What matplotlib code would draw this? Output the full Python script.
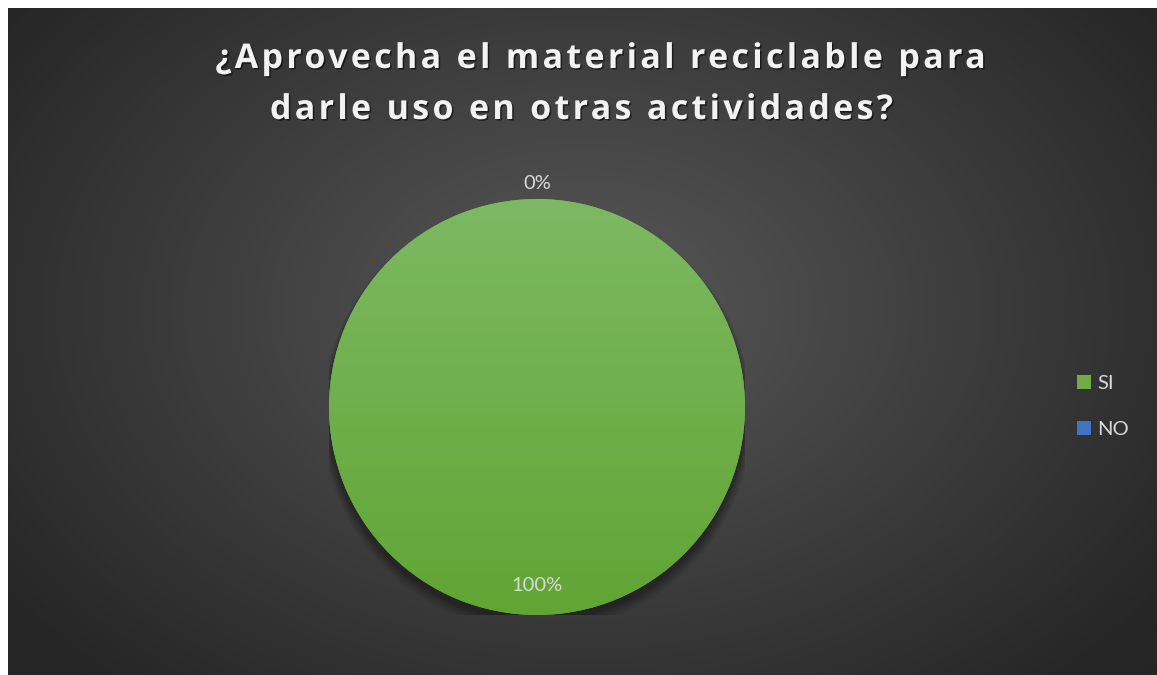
import numpy as np
import matplotlib
matplotlib.use("Agg")
import matplotlib.pyplot as plt
import matplotlib.patheffects as pe
from matplotlib.path import Path
from matplotlib.transforms import IdentityTransform
from matplotlib.textpath import text_to_path
from matplotlib.font_manager import FontProperties
from matplotlib.colors import LinearSegmentedColormap

# ---- data ----
title_lines = ["¿Aprovecha el material reciclable para", "darle uso en otras actividades?"]
categories = ["SI", "NO"]
values = [100, 0]
colors = ["#70AD47", "#4472C4"]

W, H = 1157, 675
fig = plt.figure(figsize=(W / 100, H / 100), dpi=100, facecolor="white")


class LetterSpaced(pe.AbstractPathEffect):
    """Draw a text path with extra spacing between glyphs (centered)."""

    def __init__(self, s, prop, spacing, offset=(0, 0), color=None, alpha=None):
        super().__init__(offset=(0, 0))
        self.spacing = spacing
        self.off = offset
        self.color = color
        self.alpha = alpha
        font = text_to_path._get_font(prop)
        info, _, _ = text_to_path.get_glyphs_with_font(font, s)
        self.xpos = np.array([g[1] for g in info])
        self.n = len(self.xpos)

    def draw_path(self, renderer, gc, tpath, affine, rgbFace=None):
        verts = tpath.vertices
        codes = tpath.codes
        starts = np.where(codes == Path.MOVETO)[0]
        ends = list(starts[1:]) + [len(codes)]
        disp = affine.transform(verts)
        shifts = np.zeros(len(verts))
        for a, b in zip(starts, ends):
            seg_codes = codes[a:b]
            mask = seg_codes != Path.CLOSEPOLY
            cx = verts[a:b][mask, 0].mean()
            k = max(0, np.searchsorted(self.xpos, cx, side="right") - 1)
            shifts[a:b] = k * self.spacing
        disp[:, 0] += shifts - (self.n - 1) * self.spacing / 2 + renderer.points_to_pixels(self.off[0])
        disp[:, 1] += renderer.points_to_pixels(self.off[1])
        gc0 = renderer.new_gc()
        gc0.copy_properties(gc)
        face = rgbFace if self.color is None else matplotlib.colors.to_rgba(self.color)
        if self.alpha is not None:
            gc0.set_alpha(self.alpha)
        renderer.draw_path(gc0, Path(disp, codes), IdentityTransform(), face)
        gc0.restore()


# ---- background radial gradient ----
bg = fig.add_axes([8 / W, 0, (W - 8) / W, (H - 8) / H])
bg.set_axis_off()
ny, nx = 334, 575
yy, xx = np.mgrid[0:ny, 0:nx]
cx, cy = 0.50 * nx, 0.45 * ny
r = np.sqrt(((xx - cx) / (0.62 * nx)) ** 2 + ((yy - cy) / (0.75 * ny)) ** 2)
r = np.clip(r, 0, 1)
c_center = np.array([0x58, 0x58, 0x58]) / 255
c_edge = np.array([0x26, 0x26, 0x26]) / 255
img = c_center[None, None, :] * (1 - r[..., None]) + c_edge[None, None, :] * r[..., None]
bg.imshow(img, extent=(0, 1, 0, 1), aspect="auto", origin="upper", interpolation="bilinear")
bg.set_xlim(0, 1)
bg.set_ylim(0, 1)

# ---- title ----
title_prop = FontProperties(family="Open Sans", weight="bold", size=24.5)
title_centers = [(600, 59), (581, 110)]
for line, (tx, ty) in zip(title_lines, title_centers):
    fig.text(tx / W, 1 - ty / H, line, fontproperties=title_prop, color="#f2f2f2",
             ha="center", va="center",
             path_effects=[LetterSpaced(line, title_prop, 3.3, offset=(1.1, -1.1),
                                        color="black", alpha=0.55),
                           LetterSpaced(line, title_prop, 3.3)])

# ---- pie ----
R = 208
pcx, pcy = 537, 407
ax = fig.add_axes([(pcx - R) / W, (H - pcy - R) / H, 2 * R / W, 2 * R / H])
for k, a in zip(range(6, 0, -1), [0.04, 0.05, 0.06, 0.07, 0.08, 0.09]):
    ax.add_patch(plt.Circle((0, -0.02 - k * 0.004), 1 + k * 0.006, color="black", alpha=a, lw=0, zorder=0))
wedges, texts, autotexts = ax.pie(values, colors=colors, startangle=90, counterclock=False,
                                  radius=1, autopct="%1.0f%%", pctdistance=0.85,
                                  wedgeprops=dict(linewidth=0),
                                  textprops=dict(color="#d9d9d9", fontsize=14.5,
                                                 family=["Lato", "DejaVu Sans"]))
gcmap = LinearSegmentedColormap.from_list("g", ["#61a534", "#7db963"])
grad = np.linspace(0, 1, 256)[:, None]
im = ax.imshow(grad, extent=(-1, 1, -1, 1), origin="lower", cmap=gcmap, aspect="auto", zorder=2)
im.set_clip_path(wedges[0])

dists = [0.86, 1.075]
for w, t, d in zip(wedges, autotexts, dists):
    ang = np.deg2rad((w.theta1 + w.theta2) / 2)
    t.set_position((d * np.cos(ang), d * np.sin(ang)))
    t.set_zorder(5)
ax.set_xlim(-1, 1)
ax.set_ylim(-1, 1)
ax.set_axis_off()

# ---- legend ----
leg = fig.legend(wedges, categories, loc="center left",
                 bbox_to_anchor=(1077 / W, 1 - 406.5 / H), frameon=False,
                 borderpad=0, borderaxespad=0,
                 handlelength=0.7, handleheight=0.7, handletextpad=0.3,
                 labelspacing=1.4,
                 prop=dict(size=14.5, family=["Lato", "DejaVu Sans"]))
for t in leg.get_texts():
    t.set_color("#d9d9d9")

fig.savefig("out.png", dpi=100, facecolor="white")
